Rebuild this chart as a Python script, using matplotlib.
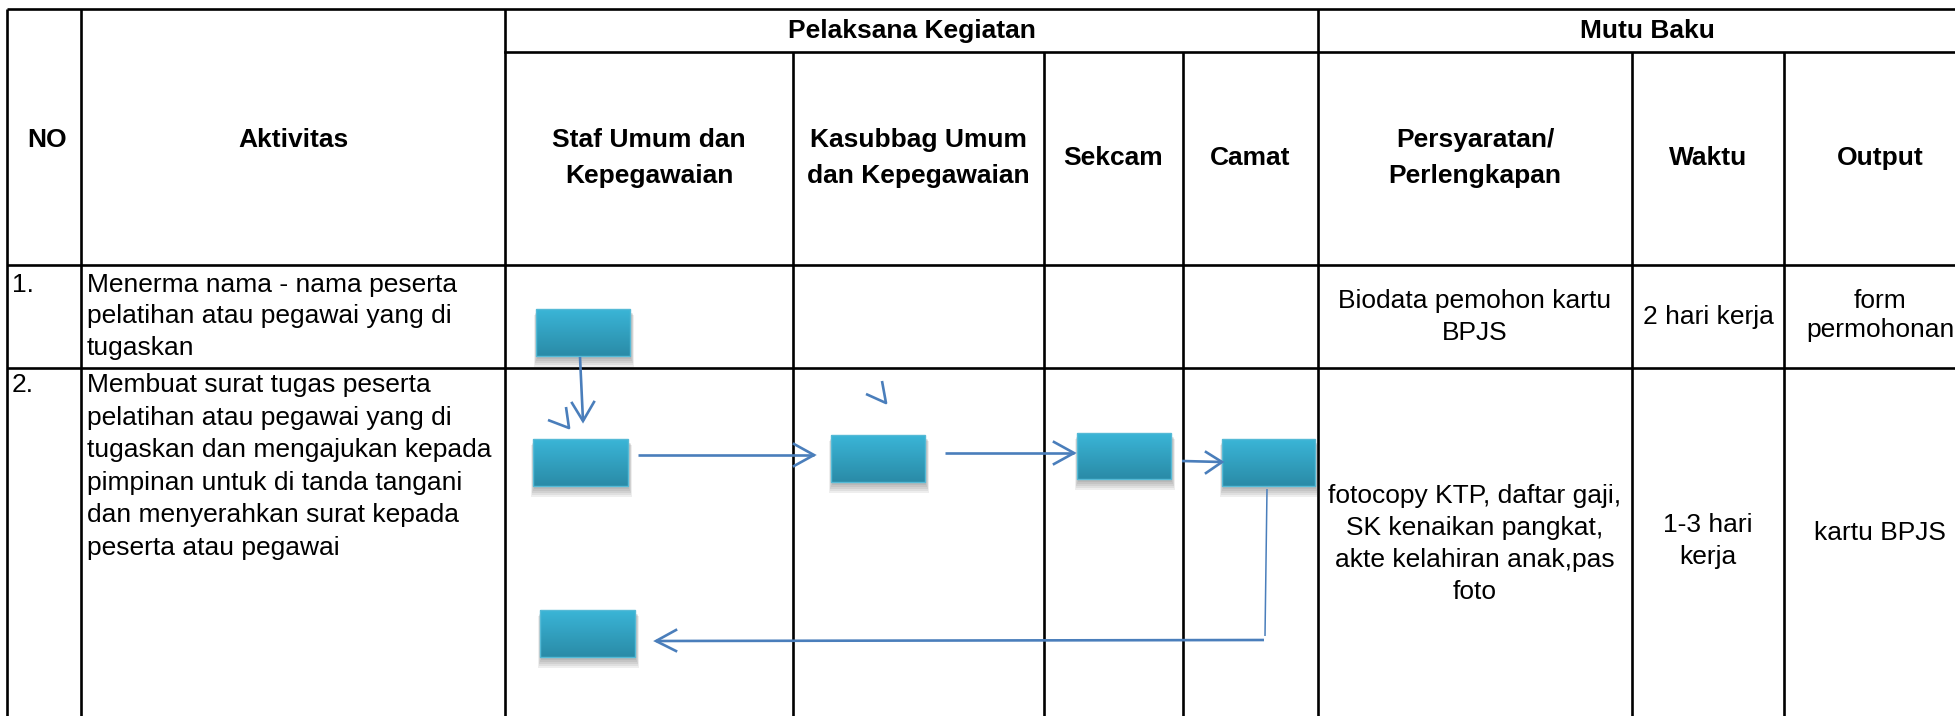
import numpy as np
import matplotlib
matplotlib.use('Agg')
import matplotlib.pyplot as plt
import matplotlib.patches as patches
from matplotlib.colors import LinearSegmentedColormap

plt.rcParams['font.family'] = ['Liberation Sans', 'DejaVu Sans']

# table content
group_headers = ['Pelaksana Kegiatan', 'Mutu Baku']
col_headers = ['NO', 'Aktivitas', 'Staf Umum dan\nKepegawaian', 'Kasubbag Umum\ndan Kepegawaian',
               'Sekcam', 'Camat', 'Persyaratan/\nPerlengkapan', 'Waktu', 'Output']
row_numbers = ['1.', '2.']
activities = [
    ['Menerma nama - nama peserta', 'pelatihan atau pegawai yang di', 'tugaskan'],
    ['Membuat surat tugas peserta', 'pelatihan atau pegawai yang di',
     'tugaskan dan mengajukan kepada', 'pimpinan untuk di tanda tangani',
     'dan menyerahkan surat kepada', 'peserta atau pegawai'],
]
requirements = ['Biodata pemohon kartu\nBPJS',
                'fotocopy KTP, daftar gaji,\nSK kenaikan pangkat,\nakte kelahiran anak,pas\nfoto']
durations = ['2 hari kerja', '1-3 hari\nkerja']
outputs = ['form\npermohonan', 'kartu BPJS']

# layout (pixels of the 1955x716 picture)
W, H = 1955, 716
col_edges = [7, 81, 505, 793, 1044, 1183, 1318, 1632, 1784, 1976]
row_top, row_sub, row_head, row_1 = 9, 52, 265, 368
FS = 19
LINE = '#4A7EBB'

fig = plt.figure(figsize=(W / 100, H / 100), dpi=100)
ax = fig.add_axes([0, 0, 1, 1])
ax.set_axis_off()


def centre(i):
    if i == 0:
        return 47
    return (col_edges[i] + col_edges[i + 1]) / 2


def lines_text(x, yc, text, spacing, bold=False):
    parts = text.split('\n')
    n = len(parts)
    for i, p in enumerate(parts):
        y = yc + (i - (n - 1) / 2) * spacing + 8
        ax.text(x, y, p, ha='center', va='baseline', fontsize=FS,
                fontweight='bold' if bold else 'normal', color='black')


# grid
lw_grid = 1.9
for y in (row_top, row_head, row_1):
    ax.plot([col_edges[0], W], [y, y], color='black', lw=lw_grid, solid_capstyle='butt')
ax.plot([col_edges[2], W], [row_sub, row_sub], color='black', lw=lw_grid)
for i, x in enumerate(col_edges[:-1]):
    y0 = row_top if i in (0, 1, 2, 6) else row_sub
    ax.plot([x, x], [y0, H], color='black', lw=lw_grid, solid_capstyle='butt')

# headers
lines_text((col_edges[2] + col_edges[6]) / 2, 30, group_headers[0], 36, bold=True)
lines_text((col_edges[6] + col_edges[9]) / 2, 30, group_headers[1], 36, bold=True)
for i, label in enumerate(col_headers):
    yc = 139 if i < 2 else 157
    lines_text(centre(i), yc, label, 36, bold=True)

# rows
row_first_base = [292, 392]
row_spacing = [31.5, 32.6]
for r in range(2):
    ax.text(12, row_first_base[r], row_numbers[r], ha='left', va='baseline', fontsize=FS)
    for k, line in enumerate(activities[r]):
        ax.text(87, row_first_base[r] + k * row_spacing[r], line,
                ha='left', va='baseline', fontsize=FS)

lines_text(centre(6), 316, requirements[0], 32)
lines_text(centre(7), 316, durations[0], 31)
lines_text(centre(8), 315, outputs[0], 29)
lines_text(centre(6), 543, requirements[1], 32.3)
lines_text(centre(7), 540, durations[1], 32)
lines_text(centre(8), 532, outputs[1], 32)

# process boxes
cmap = LinearSegmentedColormap.from_list('box', ['#3AB5D7', '#2A8BA7'])
grad = np.linspace(0, 1, 64).reshape(-1, 1)
boxes = [(536, 309, 94, 47), (533, 439, 95, 47), (831, 435, 94, 47),
         (1077, 433, 94, 46), (1222, 439, 93, 47), (540, 610, 95, 47)]
for (x, y, w, h) in boxes:
    for k in range(5):
        ax.add_patch(patches.Rectangle((x + 1 - k * 0.8, y + 3 + k * 0.7), w + k * 1.6, h + k * 1.2,
                                       facecolor='#303030', edgecolor='none', alpha=0.08, zorder=2))
    ax.imshow(grad, extent=(x, x + w, y + h, y), cmap=cmap, aspect='auto', zorder=3,
              interpolation='bilinear')
    ax.add_patch(patches.Rectangle((x, y), w, h, facecolor='none', edgecolor='#55BAD6',
                                   lw=1.0, zorder=4))


def arrow(pts, head=None, lw=1.9):
    xs, ys = zip(*pts)
    ax.plot(xs, ys, color=LINE, lw=lw, zorder=5, solid_capstyle='butt')
    if head is not None:
        tip, a1, a2 = head
        ax.plot([a1[0], tip[0], a2[0]], [a1[1], tip[1], a2[1]], color=LINE, lw=lw, zorder=5,
                solid_joinstyle='miter')


arrow([(580, 357), (583, 421)], ((583, 421), (572, 403), (594, 402)))
arrow([(548, 420), (569, 428), (566, 407)])
arrow([(866, 394), (886, 403), (882, 381)])
arrow([(638, 455), (814, 455)], ((814, 455), (794, 444), (794, 466)))
arrow([(945, 453), (1074, 453)], ((1074, 453), (1054, 442), (1054, 464)))
arrow([(1182, 461), (1222, 462)], ((1222, 462), (1206, 452), (1206, 473)))
arrow([(1267, 489), (1265, 636)], lw=1.1)
arrow([(1264, 640), (656, 641)], ((656, 641), (676, 630), (676, 651)))

ax.set_xlim(0, W)
ax.set_ylim(H, 0)
fig.savefig('out.png', dpi=100, facecolor='white')
